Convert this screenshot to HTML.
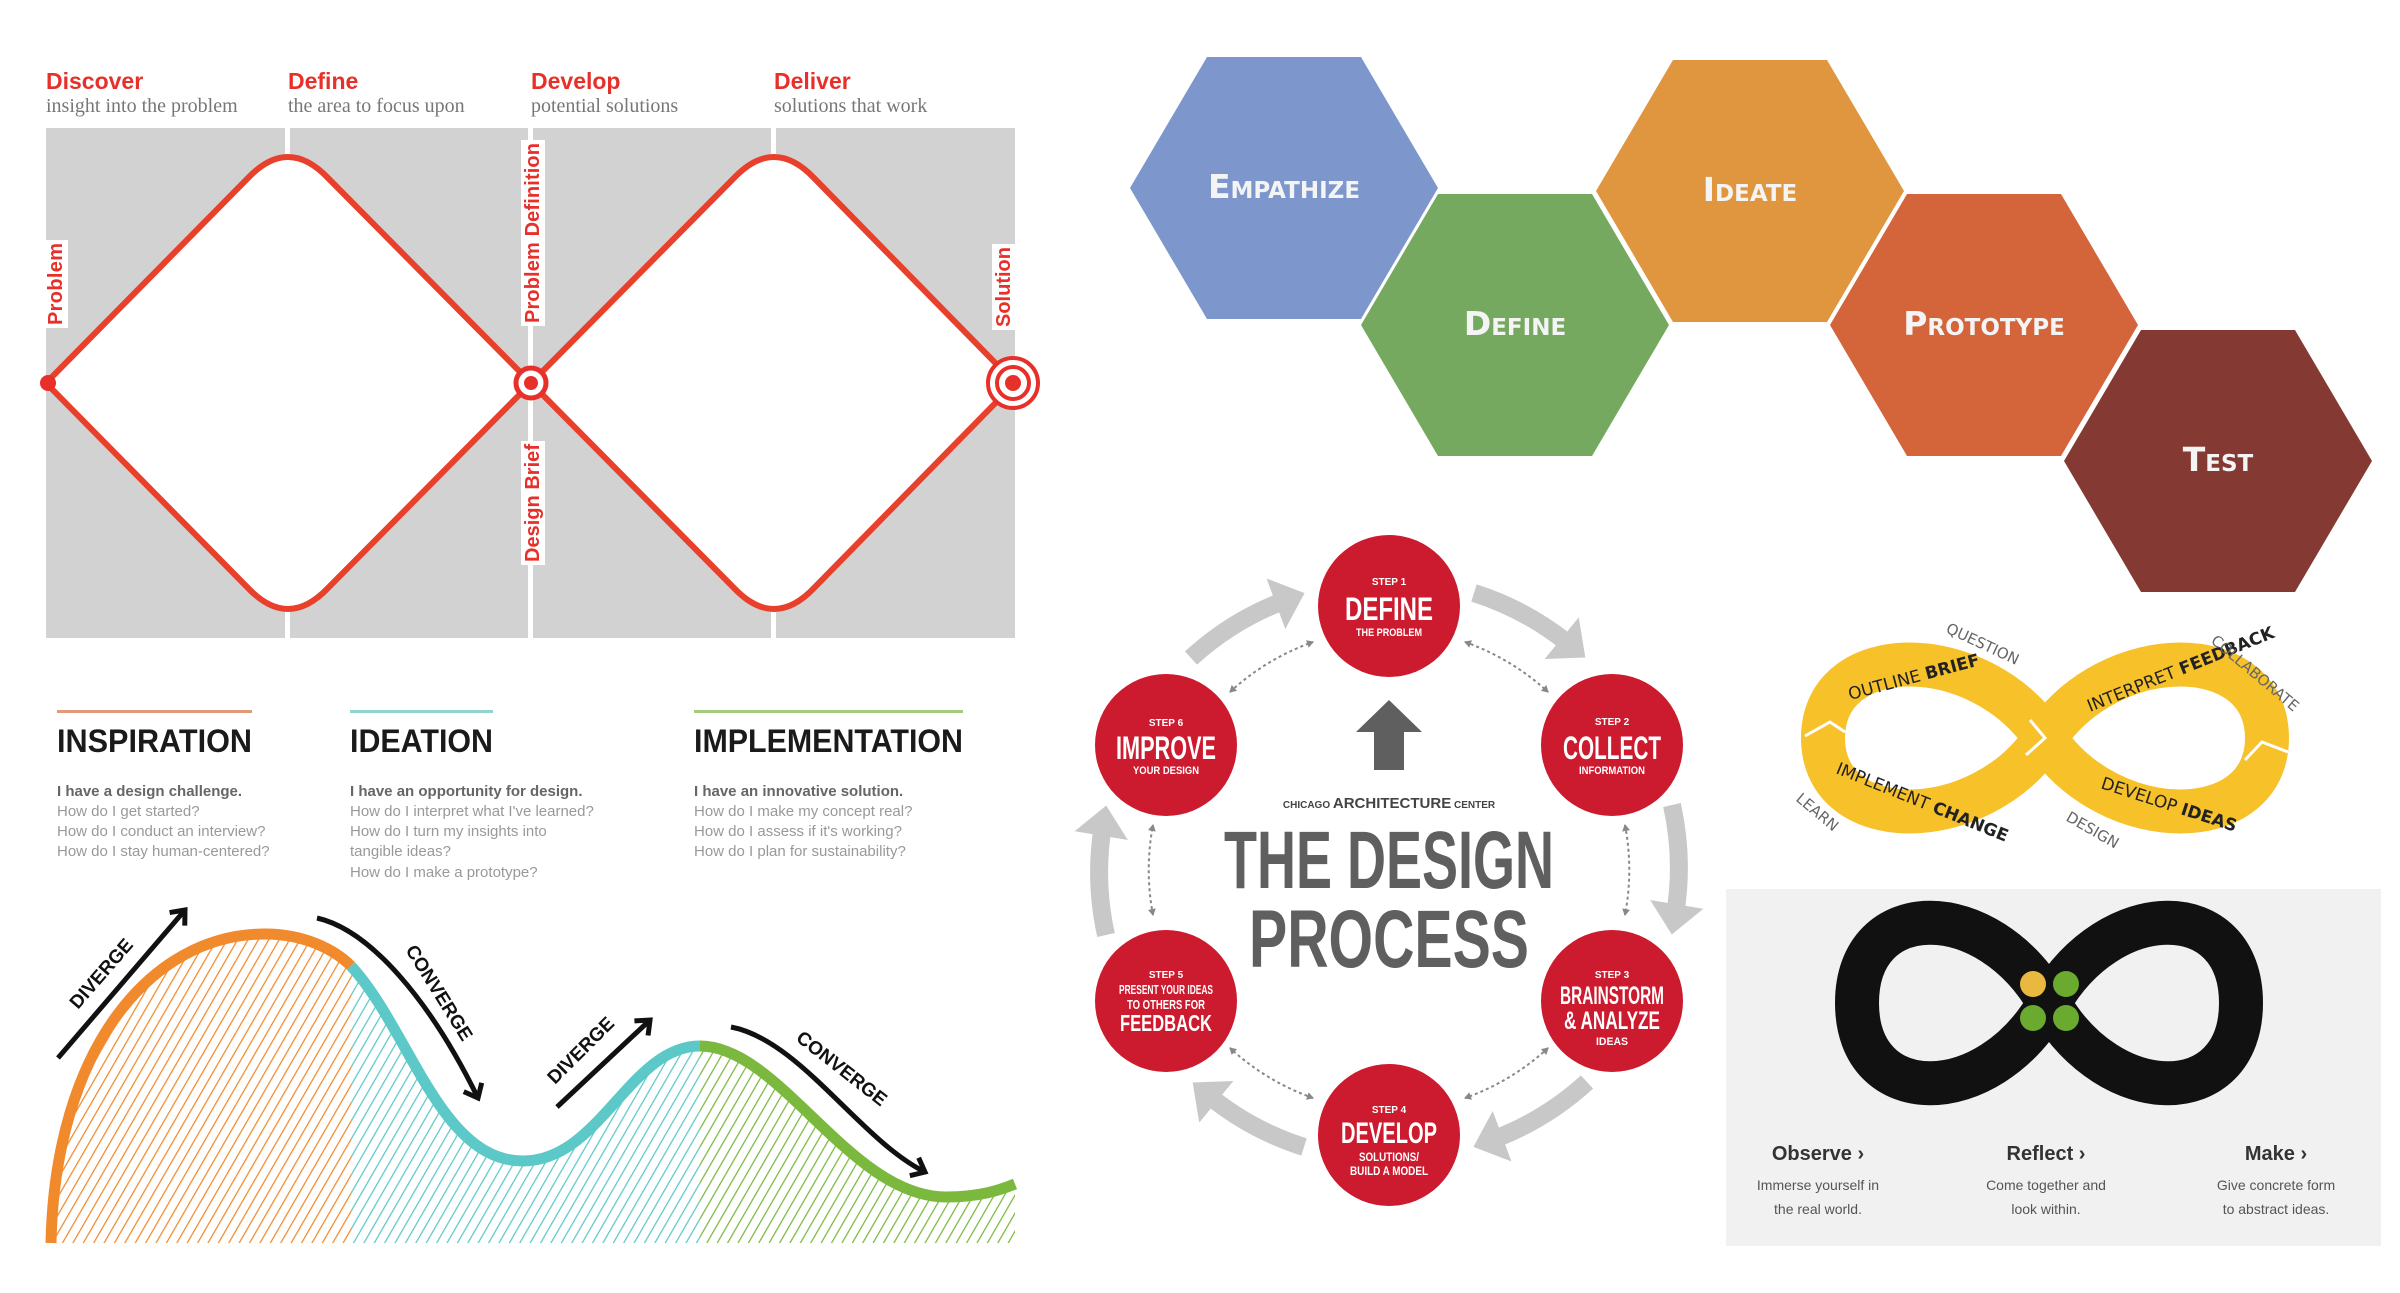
<!DOCTYPE html>
<html><head><meta charset="utf-8"><style>
html,body{margin:0;padding:0;background:#fff;width:2400px;height:1293px;overflow:hidden}
svg{display:block}
</style></head><body>
<svg width="2400" height="1293" viewBox="0 0 2400 1293" xmlns="http://www.w3.org/2000/svg">
<defs>
<pattern id="hO" width="9" height="9" patternUnits="userSpaceOnUse" patternTransform="rotate(30)"><rect width="9" height="9" fill="#fff"/><line x1="0" y1="0" x2="0" y2="9" stroke="#f08a2c" stroke-width="2.5"/></pattern>
<pattern id="hC" width="9" height="9" patternUnits="userSpaceOnUse" patternTransform="rotate(30)"><rect width="9" height="9" fill="#fff"/><line x1="0" y1="0" x2="0" y2="9" stroke="#5cc8c8" stroke-width="2.5"/></pattern>
<pattern id="hG" width="9" height="9" patternUnits="userSpaceOnUse" patternTransform="rotate(30)"><rect width="9" height="9" fill="#fff"/><line x1="0" y1="0" x2="0" y2="9" stroke="#7ab83e" stroke-width="2.5"/></pattern>
<clipPath id="cO"><rect x="40" y="880" width="311" height="370"/></clipPath>
<clipPath id="cC"><rect x="351" y="880" width="349" height="370"/></clipPath>
<clipPath id="cG"><rect x="700" y="880" width="320" height="370"/></clipPath>
<marker id="gh" markerWidth="3" markerHeight="3" refX="0.6" refY="1.5" orient="auto" markerUnits="strokeWidth"><path d="M0,0 L1.7,1.5 L0,3 Z" fill="#c8c8c8"/></marker>
<marker id="dh" markerWidth="8" markerHeight="8" refX="6" refY="4" orient="auto-start-reverse" markerUnits="userSpaceOnUse"><path d="M0,0 L7,4 L0,8 Z" fill="#888"/></marker>
<marker id="ah" markerWidth="24" markerHeight="24" refX="16" refY="12" orient="auto" markerUnits="userSpaceOnUse"><path d="M4,2 L16,12 L4,22" fill="none" stroke="#111" stroke-width="5"/></marker>
</defs>

<!-- ============ DOUBLE DIAMOND ============ -->
<g font-family="Liberation Sans, sans-serif">
<text x="46" y="89" font-size="23" font-weight="bold" fill="#e8302a">Discover</text>
<text x="288" y="89" font-size="23" font-weight="bold" fill="#e8302a">Define</text>
<text x="531" y="89" font-size="23" font-weight="bold" fill="#e8302a">Develop</text>
<text x="774" y="89" font-size="23" font-weight="bold" fill="#e8302a">Deliver</text>
</g>
<g font-family="Liberation Serif, serif" font-size="20" fill="#777">
<text x="46" y="112">insight into the problem</text>
<text x="288" y="112">the area to focus upon</text>
<text x="531" y="112">potential solutions</text>
<text x="774" y="112">solutions that work</text>
</g>
<rect x="46" y="128" width="969" height="510" fill="#d2d2d3"/>
<rect x="285" y="128" width="5" height="510" fill="#fff"/>
<rect x="528" y="128" width="5" height="510" fill="#fff"/>
<rect x="771" y="128" width="5" height="510" fill="#fff"/>
<path d="M46,383 L248,178 Q288,136 328,178 L531,383 L328,588 Q288,630 248,588 Z" fill="#fff" stroke="#e8402a" stroke-width="6" stroke-linejoin="round"/>
<path d="M531,383 L734,178 Q774,136 814,178 L1015,383 L814,588 Q774,630 734,588 Z" fill="#fff" stroke="#e8402a" stroke-width="6" stroke-linejoin="round"/>
<circle cx="48" cy="383" r="8" fill="#e8302a"/>
<circle cx="531" cy="383" r="15" fill="#fff" stroke="#e8302a" stroke-width="5"/>
<circle cx="531" cy="383" r="7" fill="#e8302a"/>
<circle cx="1013" cy="383" r="25" fill="#fff" stroke="#e8302a" stroke-width="4"/>
<circle cx="1013" cy="383" r="16" fill="#fff" stroke="#e8302a" stroke-width="4"/>
<circle cx="1013" cy="383" r="8" fill="#e8302a"/>
<g font-family="Liberation Sans, sans-serif" font-size="20" font-weight="bold" fill="#e8302a">
<g transform="translate(62,325) rotate(-90)"><rect x="-3" y="-18" width="88" height="24" fill="#fff"/><text x="0" y="0" textLength="82">Problem</text></g>
<g transform="translate(539,323) rotate(-90)"><rect x="-3" y="-18" width="186" height="24" fill="#fff"/><text x="0" y="0" textLength="180">Problem Definition</text></g>
<g transform="translate(539,562) rotate(-90)"><rect x="-3" y="-18" width="124" height="24" fill="#fff"/><text x="0" y="0" textLength="118">Design Brief</text></g>
<g transform="translate(1010,327) rotate(-90)"><rect x="-3" y="-18" width="86" height="24" fill="#fff"/><text x="0" y="0" textLength="80">Solution</text></g>
</g>

<!-- ============ IDEO CURVE ============ -->
<rect x="57" y="710" width="195" height="3" fill="#e09a7a"/>
<rect x="350" y="710" width="143" height="3" fill="#8fd3d3"/>
<rect x="694" y="710" width="269" height="3" fill="#a5c97d"/>
<g font-family="Liberation Sans, sans-serif" font-weight="bold" font-size="32" fill="#1a1a1a">
<text x="57" y="752" textLength="195" lengthAdjust="spacingAndGlyphs">INSPIRATION</text>
<text x="350" y="752" textLength="143" lengthAdjust="spacingAndGlyphs">IDEATION</text>
<text x="694" y="752" textLength="269" lengthAdjust="spacingAndGlyphs">IMPLEMENTATION</text>
</g>
<g font-family="Liberation Sans, sans-serif" font-size="15" fill="#999">
<text x="57" y="796" font-weight="bold" fill="#666">I have a design challenge.</text>
<text x="57" y="816">How do I get started?</text>
<text x="57" y="836">How do I conduct an interview?</text>
<text x="57" y="856">How do I stay human-centered?</text>
<text x="350" y="796" font-weight="bold" fill="#666">I have an opportunity for design.</text>
<text x="350" y="816">How do I interpret what I've learned?</text>
<text x="350" y="836">How do I turn my insights into</text>
<text x="350" y="856">tangible ideas?</text>
<text x="350" y="877">How do I make a prototype?</text>
<text x="694" y="796" font-weight="bold" fill="#666">I have an innovative solution.</text>
<text x="694" y="816">How do I make my concept real?</text>
<text x="694" y="836">How do I assess if it's working?</text>
<text x="694" y="856">How do I plan for sustainability?</text>
</g>
<path d="M51,1243 C55,1050 150,934 265,934 C305,934 335,950 351,966 C410,1030 440,1161 523,1161 C600,1161 630,1046 700,1046 C780,1046 850,1197 946,1197 C980,1197 1000,1190 1015,1184 L1015,1243 Z" fill="url(#hO)" clip-path="url(#cO)"/>
<path d="M51,1243 C55,1050 150,934 265,934 C305,934 335,950 351,966 C410,1030 440,1161 523,1161 C600,1161 630,1046 700,1046 C780,1046 850,1197 946,1197 C980,1197 1000,1190 1015,1184 L1015,1243 Z" fill="url(#hC)" clip-path="url(#cC)"/>
<path d="M51,1243 C55,1050 150,934 265,934 C305,934 335,950 351,966 C410,1030 440,1161 523,1161 C600,1161 630,1046 700,1046 C780,1046 850,1197 946,1197 C980,1197 1000,1190 1015,1184 L1015,1243 Z" fill="url(#hG)" clip-path="url(#cG)"/>
<path d="M51,1243 C55,1050 150,934 265,934 C305,934 335,950 351,966" fill="none" stroke="#f08a2c" stroke-width="11"/>
<path d="M351,966 C410,1030 440,1161 523,1161 C600,1161 630,1046 700,1046" fill="none" stroke="#5cc8c8" stroke-width="11"/>
<path d="M700,1046 C780,1046 850,1197 946,1197 C980,1197 1000,1190 1015,1184" fill="none" stroke="#7ab83e" stroke-width="11"/>
<g stroke="#111" stroke-width="5" fill="none">
<path d="M58,1058 L185,910" marker-end="url(#ah)"/>
<path d="M317,918 C370,930 430,1000 478,1098" marker-end="url(#ah)"/>
<path d="M557,1107 L650,1020" marker-end="url(#ah)"/>
<path d="M731,1027 C800,1040 860,1140 925,1172" marker-end="url(#ah)"/>
</g>
<g font-family="Liberation Sans, sans-serif" font-weight="bold" font-size="19" fill="#111">
<text transform="translate(78,1010) rotate(-49)">DIVERGE</text>
<text transform="translate(405,950) rotate(58)">CONVERGE</text>
<text transform="translate(555,1085) rotate(-45)">DIVERGE</text>
<text transform="translate(795,1040) rotate(38)">CONVERGE</text>
</g>

<!-- ============ HEXAGONS ============ -->
<g>
<polygon points="1130,188 1207,57 1361,57 1438,188 1361,319 1207,319" fill="#7d97cd"/>
<polygon points="1361,325 1438,194 1592,194 1669,325 1592,456 1438,456" fill="#76a960"/>
<polygon points="1596,191 1673,60 1827,60 1904,191 1827,322 1673,322" fill="#df963f"/>
<polygon points="1830,325 1907,194 2061,194 2138,325 2061,456 1907,456" fill="#d4643a"/>
<polygon points="2064,461 2141,330 2295,330 2372,461 2295,592 2141,592" fill="#843a33"/>
</g>
<g font-family="DejaVu Sans, sans-serif" font-weight="bold" fill="#f4f4f4" text-anchor="middle" font-size="33" style="font-variant:small-caps">
<text x="1284" y="198">Empathize</text>
<text x="1515" y="335">Define</text>
<text x="1750" y="201">Ideate</text>
<text x="1984" y="335">Prototype</text>
<text x="2218" y="471">Test</text>
</g>

<!-- ============ DESIGN PROCESS ============ -->
<g fill="none" stroke="#c8c8c8" stroke-width="18">
<path d="M1474,593 A290,290 0 0 1 1570,645" marker-end="url(#gh)"/>
<path d="M1672,805 A290,290 0 0 1 1675,915" marker-end="url(#gh)"/>
<path d="M1587,1082 A290,290 0 0 1 1492,1140" marker-end="url(#gh)"/>
<path d="M1304,1147 A290,290 0 0 1 1208,1095" marker-end="url(#gh)"/>
<path d="M1106,935 A290,290 0 0 1 1103,825" marker-end="url(#gh)"/>
<path d="M1191,658 A290,290 0 0 1 1286,600" marker-end="url(#gh)"/>
</g>
<g fill="none" stroke="#888" stroke-width="2" stroke-dasharray="3,3">
<path d="M1465,642 A240,240 0 0 1 1548,692" marker-start="url(#dh)" marker-end="url(#dh)"/>
<path d="M1625,825 A240,240 0 0 1 1625,915" marker-start="url(#dh)" marker-end="url(#dh)"/>
<path d="M1548,1048 A240,240 0 0 1 1465,1098" marker-start="url(#dh)" marker-end="url(#dh)"/>
<path d="M1313,1098 A240,240 0 0 1 1230,1048" marker-start="url(#dh)" marker-end="url(#dh)"/>
<path d="M1153,915 A240,240 0 0 1 1153,825" marker-start="url(#dh)" marker-end="url(#dh)"/>
<path d="M1230,692 A240,240 0 0 1 1313,642" marker-start="url(#dh)" marker-end="url(#dh)"/>
</g>
<g fill="#cc1a2e">
<circle cx="1389" cy="606" r="71"/><circle cx="1612" cy="745" r="71"/><circle cx="1612" cy="1001" r="71"/>
<circle cx="1389" cy="1135" r="71"/><circle cx="1166" cy="1001" r="71"/><circle cx="1166" cy="745" r="71"/>
</g>
<polygon points="1389,700 1422,732 1404,732 1404,770 1374,770 1374,732 1356,732" fill="#5f5f5f"/>
<g font-family="Liberation Sans, sans-serif" font-weight="bold" fill="#fff" text-anchor="middle" lengthAdjust="spacingAndGlyphs">
<text x="1389" y="585" font-size="10">STEP 1</text><text x="1389" y="620" font-size="32" textLength="88" lengthAdjust="spacingAndGlyphs">DEFINE</text><text x="1389" y="636" font-size="11" textLength="66" lengthAdjust="spacingAndGlyphs">THE PROBLEM</text>
<text x="1612" y="725" font-size="10">STEP 2</text><text x="1612" y="759" font-size="32" textLength="98" lengthAdjust="spacingAndGlyphs">COLLECT</text><text x="1612" y="774" font-size="11" textLength="66" lengthAdjust="spacingAndGlyphs">INFORMATION</text>
<text x="1612" y="978" font-size="10">STEP 3</text><text x="1612" y="1004" font-size="25" textLength="104" lengthAdjust="spacingAndGlyphs">BRAINSTORM</text><text x="1612" y="1029" font-size="25" textLength="96" lengthAdjust="spacingAndGlyphs">&amp; ANALYZE</text><text x="1612" y="1045" font-size="11" textLength="32" lengthAdjust="spacingAndGlyphs">IDEAS</text>
<text x="1389" y="1113" font-size="10">STEP 4</text><text x="1389" y="1143" font-size="30" textLength="96" lengthAdjust="spacingAndGlyphs">DEVELOP</text><text x="1389" y="1161" font-size="12" textLength="60" lengthAdjust="spacingAndGlyphs">SOLUTIONS/</text><text x="1389" y="1175" font-size="12" textLength="78" lengthAdjust="spacingAndGlyphs">BUILD A MODEL</text>
<text x="1166" y="978" font-size="10">STEP 5</text><text x="1166" y="994" font-size="13" textLength="94" lengthAdjust="spacingAndGlyphs">PRESENT YOUR IDEAS</text><text x="1166" y="1009" font-size="13" textLength="78" lengthAdjust="spacingAndGlyphs">TO OTHERS FOR</text><text x="1166" y="1031" font-size="23" textLength="92" lengthAdjust="spacingAndGlyphs">FEEDBACK</text>
<text x="1166" y="726" font-size="10">STEP 6</text><text x="1166" y="759" font-size="32" textLength="100" lengthAdjust="spacingAndGlyphs">IMPROVE</text><text x="1166" y="774" font-size="11" textLength="66" lengthAdjust="spacingAndGlyphs">YOUR DESIGN</text>
</g>
<text x="1389" y="808" text-anchor="middle" font-family="Liberation Sans, sans-serif" font-size="10" fill="#444" font-weight="bold">CHICAGO <tspan font-size="15">ARCHITECTURE</tspan> CENTER</text>
<g font-family="Liberation Sans, sans-serif" font-weight="bold" fill="#5f5f5f" text-anchor="middle" font-size="82">
<text x="1389" y="888" textLength="330" lengthAdjust="spacingAndGlyphs">THE DESIGN</text>
<text x="1389" y="967" textLength="280" lengthAdjust="spacingAndGlyphs">PROCESS</text>
</g>

<!-- ============ YELLOW INFINITY ============ -->
<path d="M2045,738 C2110,640 2267,640 2267,738 C2267,836 2110,836 2045,738 C1980,640 1823,640 1823,738 C1823,836 1980,836 2045,738 Z" fill="none" stroke="#f7c12a" stroke-width="44"/>
<g stroke="#fff" stroke-width="3" fill="none">
<path d="M1805,736 L1830,722 L1845,732"/><path d="M2026,755 L2045,738 L2030,720"/><path d="M2245,760 L2262,742 L2288,752"/>
</g>
<g font-family="DejaVu Sans, sans-serif" font-size="17" fill="#222">
<text transform="translate(1850,700) rotate(-15)">OUTLINE <tspan font-weight="bold">BRIEF</tspan></text>
<text transform="translate(2090,712) rotate(-22)">INTERPRET <tspan font-weight="bold">FEEDBACK</tspan></text>
<text transform="translate(1835,773) rotate(22)">IMPLEMENT <tspan font-weight="bold">CHANGE</tspan></text>
<text transform="translate(2100,788) rotate(18)">DEVELOP <tspan font-weight="bold">IDEAS</tspan></text>
</g>
<g font-family="DejaVu Sans, sans-serif" font-size="15" fill="#666">
<text transform="translate(1945,632) rotate(25)">QUESTION</text>
<text transform="translate(2210,642) rotate(40)">COLLABORATE</text>
<text transform="translate(1795,800) rotate(40)">LEARN</text>
<text transform="translate(2065,820) rotate(30)">DESIGN</text>
</g>

<!-- ============ BLACK INFINITY ============ -->
<rect x="1726" y="889" width="655" height="357" fill="#f1f1f1"/>
<path d="M2049,1003 C2110,896 2241,896 2241,1003 C2241,1110 2110,1110 2049,1003 C1988,896 1857,896 1857,1003 C1857,1110 1988,1110 2049,1003 Z" fill="none" stroke="#111" stroke-width="44"/>
<circle cx="2033" cy="984" r="13" fill="#e8b93e"/>
<circle cx="2066" cy="984" r="13" fill="#6aaa2e"/>
<circle cx="2033" cy="1018" r="13" fill="#6aaa2e"/>
<circle cx="2066" cy="1018" r="13" fill="#6aaa2e"/>
<g font-family="Liberation Sans, sans-serif" text-anchor="middle">
<text x="1818" y="1160" font-size="20" font-weight="bold" fill="#333">Observe ›</text>
<text x="2046" y="1160" font-size="20" font-weight="bold" fill="#333">Reflect ›</text>
<text x="2276" y="1160" font-size="20" font-weight="bold" fill="#333">Make ›</text>
<g font-size="14" fill="#555">
<text x="1818" y="1190">Immerse yourself in</text><text x="1818" y="1214">the real world.</text>
<text x="2046" y="1190">Come together and</text><text x="2046" y="1214">look within.</text>
<text x="2276" y="1190">Give concrete form</text><text x="2276" y="1214">to abstract ideas.</text>
</g>
</g>
</svg>
</body></html>
